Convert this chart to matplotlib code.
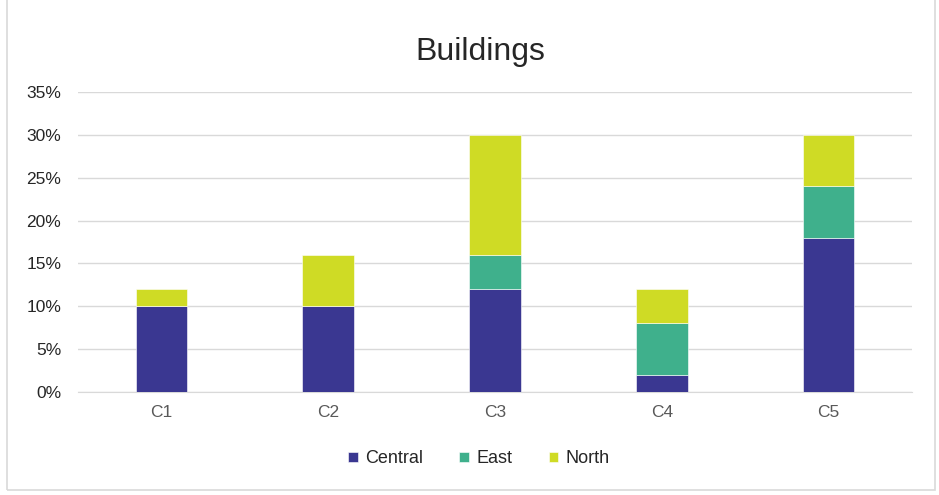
import matplotlib.pyplot as plt
from matplotlib.patches import Rectangle
from matplotlib.ticker import PercentFormatter
import numpy as np

plt.rcParams['font.family'] = ['Liberation Sans', 'DejaVu Sans']

categories = ["C1", "C2", "C3", "C4", "C5"]
central = [0.10, 0.10, 0.12, 0.02, 0.18]
east = [0.00, 0.00, 0.04, 0.06, 0.06]
north = [0.02, 0.06, 0.14, 0.04, 0.06]

series_names = ["Central", "East", "North"]
colors = ["#3a3791", "#3fb08c", "#cfdb25"]

fig = plt.figure(figsize=(9.39, 4.95), dpi=100)
ax = fig.add_axes([0.0831, 0.208, 0.888, 0.606])

# outer chart frame
fig.patches.append(Rectangle((0.0075, 0.01), 0.988, 0.995, transform=fig.transFigure,
                             fill=False, edgecolor="#d9d9d9", linewidth=1.2))

x = np.arange(len(categories))
bottom = np.zeros(len(categories))
for name, vals, col in zip(series_names, [central, east, north], colors):
    ax.bar(x, vals, width=0.31, bottom=bottom, color=col, label=name,
           edgecolor="white", linewidth=0.4, zorder=3)
    bottom += np.array(vals)

ax.set_xlim(-0.5, len(categories) - 0.5)
ax.set_ylim(0, 0.35)
ax.set_yticks(np.arange(0, 0.351, 0.05))
ax.yaxis.set_major_formatter(PercentFormatter(1.0, decimals=0))
ax.set_xticks(x)
ax.set_xticklabels(categories)

ax.grid(axis="y", color="#d9d9d9", linewidth=1, zorder=0)
for s in ["top", "right", "left"]:
    ax.spines[s].set_visible(False)
ax.spines["bottom"].set_color("#d9d9d9")
ax.tick_params(axis="both", length=0, labelsize=12.5, colors="#595959", pad=9)
ax.tick_params(axis="y", pad=12)
for lbl in ax.get_yticklabels():
    lbl.set_color("#262626")

fig.text(0.511, 0.895, "Buildings", ha="center", va="center", fontsize=23, color="#262626")

fig.legend(loc="center", bbox_to_anchor=(0.51, 0.073), ncol=3, frameon=False,
           fontsize=13, handlelength=0.55, handleheight=0.55, handletextpad=0.4,
           columnspacing=2.0, labelcolor="#262626")

fig.savefig("out.png", dpi=100)
